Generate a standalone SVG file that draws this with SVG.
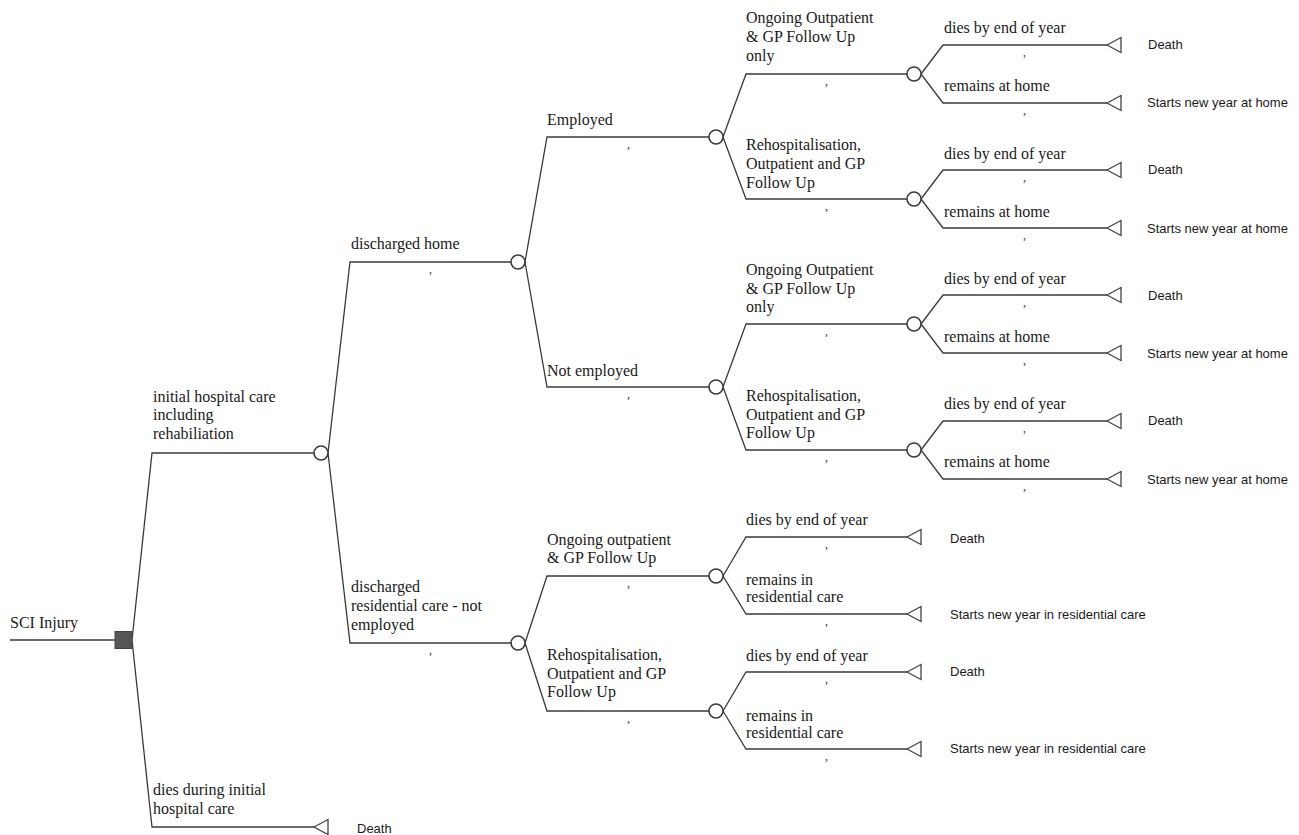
<svg xmlns="http://www.w3.org/2000/svg" width="1299" height="835" viewBox="0 0 1299 835">
<style>
.ln{fill:none;stroke:#3a3a3a;stroke-width:1.3}
.ch{fill:#fff;stroke:#3a3a3a;stroke-width:1.6}
.tm{fill:#fff;stroke:#444;stroke-width:1.3}
.t{font-family:"Liberation Serif","Times New Roman",serif;font-size:16px;fill:#1a1a1a}
.s{font-family:"Liberation Sans",Arial,sans-serif;font-size:13px;fill:#1a1a1a}
.d{font-family:"Liberation Serif","Times New Roman",serif;font-size:12px;fill:#333}
</style>
<defs>
<polygon id="tri" points="0,0 14,-7.5 14,7.5" class="tm"/>
</defs>
<rect width="1299" height="835" fill="#fff"/>
<g id="connectors">
<path class="ln" d="M10,640H115"/>
<path class="ln" d="M132,640L152,453H314M132,640L152,827H314"/>
<path class="ln" d="M328,453L350,262H511M328,453L350,643H511"/>
<path class="ln" d="M525,262L547,137H709M525,262L547,387H709"/>
<path class="ln" d="M525,643L547,576H709M525,643L547,711H709"/>
<path class="ln" d="M723,137L746,74H907M723,137L746,199H907"/>
<path class="ln" d="M723,387L746,324H907M723,387L746,450H907"/>
<path class="ln" d="M723,576L746,537H907M723,576L746,614H907"/>
<path class="ln" d="M723,711L746,672H907M723,711L746,749H907"/>
<path class="ln" d="M921,74L943,45H1107M921,74L943,103H1107"/>
<path class="ln" d="M921,199L943,170H1107M921,199L943,228H1107"/>
<path class="ln" d="M921,324L943,295H1107M921,324L943,353H1107"/>
<path class="ln" d="M921,450L943,421H1107M921,450L943,479H1107"/>
</g>
<g id="root">
<rect x="115" y="631.5" width="17" height="17" fill="#555" stroke="#444" stroke-width="1"/>
<text class="t" x="10" y="628">SCI Injury</text>
</g>
<g id="n1">
<circle class="ch" cx="321" cy="453" r="7"/>
<text class="t" x="153" y="402">initial hospital care</text>
<text class="t" x="153" y="420">including</text>
<text class="t" x="153" y="439">rehabiliation</text>
</g>
<g id="t0">
<use href="#tri" x="314" y="827"/>
<text class="t" x="153" y="795">dies during initial</text>
<text class="t" x="153" y="814">hospital care</text>
<text class="s" x="357" y="833">Death</text>
</g>
<g id="n2a">
<circle class="ch" cx="518" cy="262" r="7"/>
<text class="t" x="351" y="249">discharged home</text>
<text class="d" x="429" y="273">,</text>
</g>
<g id="n2b">
<circle class="ch" cx="518" cy="643" r="7"/>
<text class="t" x="351" y="592">discharged</text>
<text class="t" x="351" y="611">residential care - not</text>
<text class="t" x="351" y="630">employed</text>
<text class="d" x="429" y="654">,</text>
</g>
<g id="n3a">
<circle class="ch" cx="716" cy="137" r="7"/>
<text class="t" x="547" y="125">Employed</text>
<text class="d" x="627" y="148">,</text>
</g>
<g id="n3b">
<circle class="ch" cx="716" cy="387" r="7"/>
<text class="t" x="547" y="376">Not employed</text>
<text class="d" x="627" y="398">,</text>
</g>
<g id="n3c">
<circle class="ch" cx="716" cy="576" r="7"/>
<text class="t" x="547" y="545">Ongoing outpatient</text>
<text class="t" x="547" y="563">&amp; GP Follow Up</text>
<text class="d" x="627" y="587">,</text>
</g>
<g id="n3d">
<circle class="ch" cx="716" cy="711" r="7"/>
<text class="t" x="547" y="660">Rehospitalisation,</text>
<text class="t" x="547" y="679">Outpatient and GP</text>
<text class="t" x="547" y="697">Follow Up</text>
<text class="d" x="627" y="722">,</text>
</g>
<g id="n4a">
<circle class="ch" cx="914" cy="74" r="7"/>
<text class="t" x="746" y="23">Ongoing Outpatient</text>
<text class="t" x="746" y="42">&amp; GP Follow Up</text>
<text class="t" x="746" y="61">only</text>
<text class="d" x="825" y="85">,</text>
</g>
<g id="n4b">
<circle class="ch" cx="914" cy="199" r="7"/>
<text class="t" x="746" y="150">Rehospitalisation,</text>
<text class="t" x="746" y="169">Outpatient and GP</text>
<text class="t" x="746" y="188">Follow Up</text>
<text class="d" x="825" y="210">,</text>
</g>
<g id="n4c">
<circle class="ch" cx="914" cy="324" r="7"/>
<text class="t" x="746" y="275">Ongoing Outpatient</text>
<text class="t" x="746" y="294">&amp; GP Follow Up</text>
<text class="t" x="746" y="312">only</text>
<text class="d" x="825" y="335">,</text>
</g>
<g id="n4d">
<circle class="ch" cx="914" cy="450" r="7"/>
<text class="t" x="746" y="401">Rehospitalisation,</text>
<text class="t" x="746" y="420">Outpatient and GP</text>
<text class="t" x="746" y="438">Follow Up</text>
<text class="d" x="825" y="461">,</text>
</g>
<g id="t1">
<use href="#tri" x="1107" y="45"/>
<text class="t" x="944" y="33">dies by end of year</text>
<text class="d" x="1023" y="56">,</text>
<text class="s" x="1148" y="49">Death</text>
</g>
<g id="t2">
<use href="#tri" x="1107" y="103"/>
<text class="t" x="944" y="91">remains at home</text>
<text class="d" x="1023" y="114">,</text>
<text class="s" x="1147" y="107">Starts new year at home</text>
</g>
<g id="t3">
<use href="#tri" x="1107" y="170"/>
<text class="t" x="944" y="159">dies by end of year</text>
<text class="d" x="1023" y="181">,</text>
<text class="s" x="1148" y="174">Death</text>
</g>
<g id="t4">
<use href="#tri" x="1107" y="228"/>
<text class="t" x="944" y="217">remains at home</text>
<text class="d" x="1023" y="239">,</text>
<text class="s" x="1147" y="233">Starts new year at home</text>
</g>
<g id="t5">
<use href="#tri" x="1107" y="295"/>
<text class="t" x="944" y="284">dies by end of year</text>
<text class="d" x="1023" y="306">,</text>
<text class="s" x="1148" y="300">Death</text>
</g>
<g id="t6">
<use href="#tri" x="1107" y="353"/>
<text class="t" x="944" y="342">remains at home</text>
<text class="d" x="1023" y="364">,</text>
<text class="s" x="1147" y="358">Starts new year at home</text>
</g>
<g id="t7">
<use href="#tri" x="1107" y="421"/>
<text class="t" x="944" y="409">dies by end of year</text>
<text class="d" x="1023" y="432">,</text>
<text class="s" x="1148" y="425">Death</text>
</g>
<g id="t8">
<use href="#tri" x="1107" y="479"/>
<text class="t" x="944" y="467">remains at home</text>
<text class="d" x="1023" y="490">,</text>
<text class="s" x="1147" y="484">Starts new year at home</text>
</g>
<g id="t9">
<use href="#tri" x="907" y="537"/>
<text class="t" x="746" y="525">dies by end of year</text>
<text class="d" x="825" y="548">,</text>
<text class="s" x="950" y="543">Death</text>
</g>
<g id="t10">
<use href="#tri" x="907" y="614"/>
<text class="t" x="746" y="585">remains in</text>
<text class="t" x="746" y="602">residential care</text>
<text class="d" x="825" y="625">,</text>
<text class="s" x="950" y="619">Starts new year in residential care</text>
</g>
<g id="t11">
<use href="#tri" x="907" y="672"/>
<text class="t" x="746" y="661">dies by end of year</text>
<text class="d" x="825" y="683">,</text>
<text class="s" x="950" y="676">Death</text>
</g>
<g id="t12">
<use href="#tri" x="907" y="749"/>
<text class="t" x="746" y="721">remains in</text>
<text class="t" x="746" y="738">residential care</text>
<text class="d" x="825" y="760">,</text>
<text class="s" x="950" y="753">Starts new year in residential care</text>
</g>
</svg>
